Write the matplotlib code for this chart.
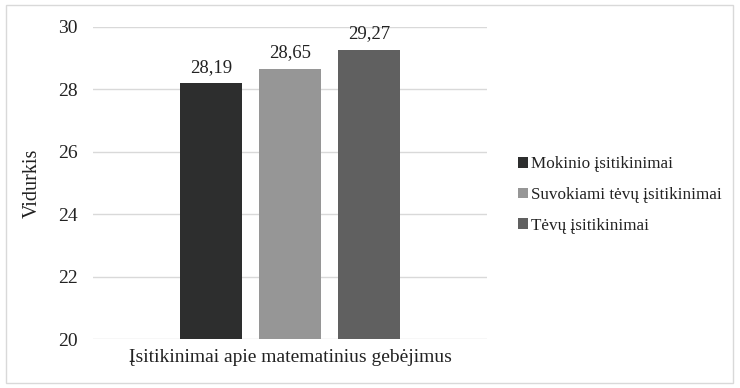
import matplotlib.pyplot as plt
from matplotlib.patches import Rectangle

plt.rcParams['font.family'] = ['Liberation Serif', 'DejaVu Serif']

category = "Įsitikinimai apie matematinius gebėjimus"
series = ["Mokinio įsitikinimai", "Suvokiami tėvų įsitikinimai", "Tėvų įsitikinimai"]
values = [28.19, 28.65, 29.27]
colors = ["#2d2e2e", "#969696", "#606060"]

fig = plt.figure(figsize=(7.4, 3.88), dpi=100)
ax = fig.add_axes([93 / 740, 49 / 388, 394 / 740, 312 / 388])

width = 0.157
step = 0.2005
for i, (name, v, c) in enumerate(zip(series, values, colors)):
    x = (i - 1) * step
    ax.bar(x, v - 20, bottom=20, width=width, color=c, label=name, zorder=3)
    ax.text(x, v + 0.25, f"{v:.2f}".replace(".", ","), ha="center", va="bottom",
            fontsize=13.5, color="#222222")

ax.set_xlim(-0.5, 0.5)
ax.set_ylim(20, 30)
ax.set_yticks(range(20, 31, 2))
ax.set_xticks([0])
ax.set_xticklabels([category], fontsize=14)
ax.tick_params(axis="y", length=0, labelsize=14, pad=11, colors="#222222")
ax.tick_params(axis="x", length=0, pad=7, colors="#222222")
ax.grid(axis="y", color="#d9d9d9", linewidth=1, zorder=0)
for s in ax.spines.values():
    s.set_visible(False)
ax.set_ylabel("Vidurkis", fontsize=14.5, labelpad=12, color="#222222")

fig.legend(loc="center left", bbox_to_anchor=(503 / 740, 193 / 388), frameon=False,
           fontsize=12.3, handlelength=0.55, handleheight=0.55, handletextpad=0.2,
           labelspacing=0.85, labelcolor="#222222")

fig.add_artist(Rectangle((6 / 740, 5 / 388), 727 / 740, 378 / 388, transform=fig.transFigure,
                         fill=False, edgecolor="#d9d9d9", linewidth=1))

fig.savefig("out.png", dpi=100)
